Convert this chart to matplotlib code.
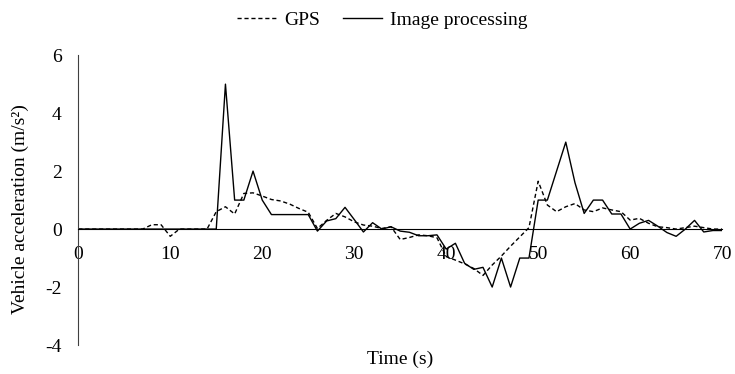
import matplotlib
matplotlib.use("Agg")
import matplotlib.pyplot as plt
import numpy as np

plt.rcParams['font.family'] = ['Liberation Serif', 'DejaVu Serif']
plt.rcParams['axes.unicode_minus'] = False

# time in seconds (1 s steps)
time = np.arange(0, 71)

# GPS acceleration (m/s^2)
gps = [0, 0, 0, 0, 0, 0, 0, 0, 0.15, 0.15,
       -0.25, 0, 0, 0, 0, 0.6, 0.77, 0.52, 1.23, 1.25,
       1.14, 1.02, 0.97, 0.86, 0.71, 0.58, 0.02, 0.3, 0.54, 0.42,
       0.25, 0.14, 0.1, 0.02, 0.08, -0.36, -0.29, -0.2, -0.23, -0.3,
       -0.95, -1.07, -1.2, -1.36, -1.6, -1.24, -0.93, -0.59, -0.27, 0.05,
       1.65, 0.83, 0.6, 0.77, 0.88, 0.66, 0.6, 0.73, 0.66, 0.6,
       0.31, 0.37, 0.2, 0.08, 0.05, 0.0, 0.05, 0.1, 0.05, 0.0,
       0.0]

# image processing acceleration (m/s^2)
img = [0, 0, 0, 0, 0, 0, 0, 0, 0, 0,
       0, 0, 0, 0, 0, 0, 5, 1, 1, 2,
       1, 0.5, 0.5, 0.5, 0.5, 0.5, -0.07, 0.28, 0.36, 0.75,
       0.33, -0.1, 0.22, 0, 0.08, -0.07, -0.11, -0.23, -0.23, -0.2,
       -0.69, -0.49, -1.18, -1.39, -1.32, -2, -1, -2, -1, -1,
       1, 1, 2, 3, 1.6, 0.54, 1, 1, 0.52, 0.52,
       0, 0.2, 0.3, 0.1, -0.12, -0.25, 0.0, 0.3, -0.1, -0.05,
       -0.05]

xticks = [0, 10, 20, 30, 40, 50, 60, 70]
yticks = [-4, -2, 0, 2, 4, 6]

fs = 14

fig = plt.figure(figsize=(7.35, 3.74), dpi=100)
ax = fig.add_axes([0.1065, 0.0775, 0.876, 0.775])

ax.plot(time, gps, color='black', linestyle=(0, (3, 2)), linewidth=1.0, label='GPS')
ax.plot(time, img, color='black', linestyle='-', linewidth=1.0, label='Image processing')

ax.set_xlim(0, 70)
ax.set_ylim(-4, 6)
ax.set_xticks(xticks)
ax.set_yticks(yticks)

ax.spines['top'].set_visible(False)
ax.spines['right'].set_visible(False)
ax.spines['bottom'].set_position(('data', 0))
ax.spines['bottom'].set_color('black')
ax.spines['left'].set_color('#404040')
ax.tick_params(axis='both', length=0, labelsize=fs)
ax.tick_params(axis='x', pad=12)
ax.tick_params(axis='y', pad=12)

ax.set_ylabel('Vehicle acceleration (m/s²)', fontsize=fs)
ax.yaxis.set_label_coords(-0.077, 0.47)
ax.set_xlabel('Time (s)', fontsize=fs)
ax.xaxis.set_label_coords(0.5, -0.02)

fig.legend(loc='center', bbox_to_anchor=(0.52, 0.947), ncol=2, frameon=False,
           fontsize=fs, handlelength=2.0, columnspacing=1.2, handletextpad=0.4)

fig.savefig('out.png', dpi=100)
